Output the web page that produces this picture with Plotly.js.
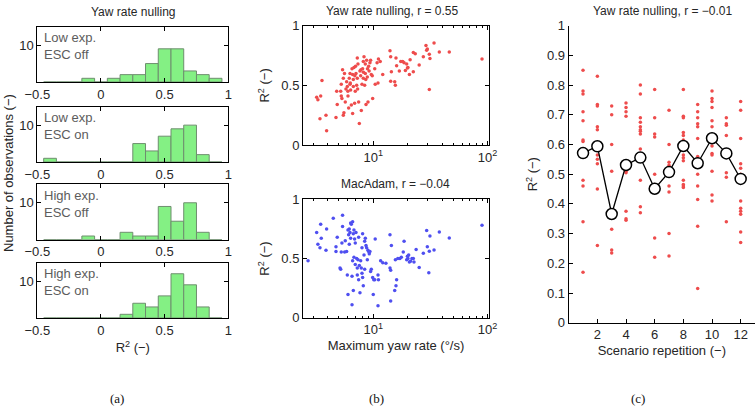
<!DOCTYPE html>
<html>
<head>
<meta charset="utf-8">
<script src="https://cdn.plot.ly/plotly-3.0.1.min.js"></script>
<style>
  html, body { margin: 0; padding: 0; background: #fff; }
  #chart { width: 755px; height: 414px; }
</style>
</head>
<body>
<div id="chart"></div>
<script>
// ---- (a) histograms of R² per condition (bin centres, width 0.1) ----
const binCenters = [-0.4, -0.3, -0.2, -0.1, 0, 0.1, 0.2, 0.3, 0.4, 0.5, 0.6, 0.7, 0.8, 0.9];
const countsLowOff  = [0, 0, 0, 1, 0, 1, 2, 2, 5, 9, 9, 3, 2, 1];
const countsLowOn   = [1, 0, 0, 0, 0, 0, 0, 5, 3, 7, 9, 10, 2, 0];
const countsHighOff = [0, 0, 0, 1, 0, 0, 2, 1, 1, 9, 5, 10, 2, 0];
const countsHighOn  = [0, 0, 0, 0, 0, 0, 1, 4, 3, 6, 12, 9, 3, 0];
const histLabels = ["Low exp.<br>ESC off", "Low exp.<br>ESC on", "High exp.<br>ESC off", "High exp.<br>ESC on"];
const histXTicks = [-0.5, 0, 0.5, 1];
const histXTickText = ["\u22120.5", "0", "0.5", "1"];

// ---- (b) R² versus maximum yaw rate ----
const yawMaxRate = [
  3.2, 3.28, 3.47, 3.56, 3.42, 3.86, 3.91, 4.72, 4.79, 4.84,
  5.19, 5.25, 5.25, 5.32, 5.39, 5.47, 5.54, 5.47, 5.69, 5.77,
  5.85, 5.93, 6.01, 6.09, 6.17, 6.26, 6.26, 6.34, 6.43, 6.52,
  6.6, 6.6, 6.69, 6.69, 6.78, 6.87, 6.96, 7.06, 7.16, 7.25,
  7.25, 7.35, 7.45, 7.55, 7.65, 7.76, 7.86, 7.97, 8.07, 8.18,
  8.18, 8.3, 8.41, 8.52, 8.52, 8.64, 8.75, 8.87, 8.99, 9.11,
  9.35, 9.48, 9.61, 9.88, 10.3, 10.4, 10.8, 11.1, 11.0, 11.5,
  12.1,
  14.0, 14.2, 14.4, 14.2, 15.4, 15.6, 15.8, 16.0, 16.9, 17.4,
  18.1, 18.6, 19.1, 19.6, 19.9, 20.1, 20.7, 21.0, 22.4, 23.3,
  22.4, 25.2, 27.4, 28.9, 29.3, 29.7, 30.9, 31.3, 30.9, 34.0,
  37.8, 46.2, 89.3,
  6.3, 6.9, 7.3, 7.8, 8.2, 8.6, 9.2, 6.0, 5.6, 7.0, 8.9, 9.8
];
const yawR2 = [
  0.40, 0.38, 0.41, 0.54, 0.22, 0.25, 0.12, 0.23, 0.45, 0.34,
  0.45, 0.41, 0.51, 0.39, 0.63, 0.56, 0.27, 0.25, 0.36, 0.47,
  0.53, 0.49, 0.41, 0.31, 0.56, 0.60, 0.51, 0.46, 0.335, 0.64,
  0.265, 0.59, 0.55, 0.49, 0.65, 0.35, 0.45, 0.60, 0.50, 0.73,
  0.56, 0.68, 0.36, 0.18, 0.62, 0.58, 0.29, 0.51, 0.64, 0.70,
  0.56, 0.74, 0.50, 0.68, 0.60, 0.34, 0.71, 0.57, 0.36, 0.66,
  0.69, 0.71, 0.59, 0.39, 0.64, 0.51, 0.69, 0.72, 0.52, 0.70,
  0.59,
  0.79, 0.74, 0.615, 0.535, 0.53, 0.50, 0.73, 0.665, 0.62, 0.70,
  0.70, 0.69, 0.625, 0.68, 0.645, 0.65, 0.59, 0.715, 0.775, 0.765,
  0.615, 0.67, 0.74, 0.835, 0.795, 0.805, 0.76, 0.725, 0.465, 0.855,
  0.78, 0.78, 0.72,
  0.52, 0.58, 0.47, 0.63, 0.61, 0.55, 0.62, 0.45, 0.60, 0.66, 0.64, 0.58
];
const macMaxRate = [
  2.69, 3.20, 3.28, 3.42, 3.47, 3.51, 3.86, 3.91, 4.47, 4.72,
  4.72, 4.84, 5.12, 5.19, 5.25, 5.32, 5.39, 5.39, 5.62, 5.69,
  5.85, 5.93, 6.01, 6.01, 6.09, 6.17, 6.17, 6.26, 6.34, 6.34,
  6.43, 6.52, 6.52, 6.60, 6.60, 6.69, 6.69, 6.78, 6.78, 6.87,
  6.96, 6.96, 7.06, 7.16, 7.25, 7.25, 7.35, 7.45, 7.45, 7.55,
  7.65, 7.76, 7.86, 7.97, 7.97, 8.07, 8.07, 8.18, 8.30, 8.41,
  8.41, 8.52, 8.64, 8.75, 8.87, 8.99, 9.11, 9.23, 9.35, 9.48,
  9.61, 9.88, 10.0, 10.1, 10.3, 10.4, 11.0, 11.0, 11.1, 11.6,
  12.1, 12.9,
  14.0, 14.0, 14.2, 14.4, 15.4, 15.8, 16.0, 14.2, 15.6, 16.4,
  17.1, 17.6, 18.3, 18.6, 19.6, 19.9, 20.1, 20.4, 20.7, 21.2,
  21.8, 22.4, 22.7, 23.7, 25.2, 27.4, 29.3, 29.7, 30.9, 31.3,
  30.6, 34.0, 37.8, 46.2, 89.3
];
const macR2 = [
  0.48, 0.72, 0.62, 0.59, 0.79, 0.67, 0.57, 0.75, 0.84, 0.60,
  0.56, 0.68, 0.42, 0.41, 0.555, 0.63, 0.865, 0.77, 0.555, 0.65,
  0.56, 0.36, 0.195, 0.74, 0.70, 0.75, 0.62, 0.72, 0.80, 0.67,
  0.79, 0.35, 0.11, 0.81, 0.48, 0.71, 0.23, 0.74, 0.51, 0.665,
  0.63, 0.45, 0.72, 0.50, 0.42, 0.36, 0.49, 0.68, 0.32, 0.44,
  0.21, 0.48, 0.42, 0.59, 0.375, 0.71, 0.34, 0.27, 0.53, 0.645,
  0.41, 0.67, 0.61, 0.59, 0.49, 0.57, 0.56, 0.54, 0.56, 0.39,
  0.41, 0.34, 0.195, 0.32, 0.32, 0.665, 0.10, 0.36, 0.32, 0.48,
  0.465, 0.46,
  0.70, 0.42, 0.40, 0.61, 0.23, 0.27, 0.32, 0.14, 0.49, 0.50,
  0.50, 0.51, 0.555, 0.645, 0.49, 0.52, 0.50, 0.53, 0.47, 0.476,
  0.50, 0.50, 0.47, 0.577, 0.425, 0.544, 0.736, 0.60, 0.561, 0.69,
  0.38, 0.572, 0.724, 0.673, 0.78
];

// ---- (c) R² per scenario repetition ----
const repetitions = [1, 2, 3, 4, 5, 6, 7, 8, 9, 10, 11, 12];
const repR2 = [
  [0.85, 0.78, 0.77, 0.71, 0.68, 0.615, 0.61, 0.58, 0.56, 0.48, 0.46, 0.34, 0.17],
  [0.83, 0.735, 0.73, 0.66, 0.65, 0.60, 0.59, 0.565, 0.55, 0.535, 0.45, 0.26],
  [0.73, 0.70, 0.60, 0.51, 0.37, 0.315, 0.245, 0.235],
  [0.74, 0.725, 0.71, 0.695, 0.53, 0.51, 0.505, 0.375, 0.35, 0.345],
  [0.80, 0.77, 0.69, 0.675, 0.66, 0.65, 0.645, 0.635, 0.585, 0.56, 0.48, 0.39, 0.37],
  [0.785, 0.69, 0.635, 0.625, 0.50, 0.465, 0.45, 0.285, 0.22],
  [0.715, 0.60, 0.54, 0.53, 0.505, 0.46, 0.44, 0.30, 0.225],
  [0.785, 0.695, 0.69, 0.64, 0.63, 0.615, 0.595, 0.565, 0.555, 0.545, 0.48, 0.465, 0.46, 0.455],
  [0.735, 0.71, 0.69, 0.67, 0.66, 0.62, 0.56, 0.535, 0.50, 0.46, 0.415, 0.325, 0.115],
  [0.78, 0.755, 0.745, 0.725, 0.68, 0.66, 0.62, 0.595, 0.57, 0.565, 0.51, 0.43, 0.41],
  [0.69, 0.67, 0.665, 0.63, 0.57, 0.505, 0.49, 0.34],
  [0.745, 0.715, 0.62, 0.535, 0.52, 0.50, 0.41, 0.385, 0.375, 0.365, 0.305, 0.27]
];
const repMeanR2 = [0.571, 0.594, 0.366, 0.531, 0.556, 0.451, 0.507, 0.595, 0.537, 0.621, 0.570, 0.484];

// ---- page geometry helpers (pixel -> paper fraction) ----
const W = 755, H = 414;
const px = v => v / W;
const py = v => 1 - v / H;

const FONT = "Liberation Sans, Arial, sans-serif";
const INK = "#262626";
const RED = "#ee4c4c";
const BLUE = "#4f4ff0";

const axisBase = {
  showline: true, linecolor: "#000", linewidth: 1,
  ticks: "inside", ticklen: 4, tickcolor: "#000",
  showgrid: false, zeroline: false,
  tickfont: { family: FONT, size: 13, color: INK }
};

// histogram panel rows (top, bottom in px)
const histRows = [[26.7, 82], [106.7, 162], [184.3, 239.7], [262.7, 318]];
const histCounts = [countsLowOff, countsLowOn, countsHighOff, countsHighOn];

const traces = [];
const layout = {
  width: W, height: H,
  margin: { l: 0, r: 0, t: 0, b: 0 },
  paper_bgcolor: "#fff", plot_bgcolor: "#fff",
  showlegend: false,
  font: { family: FONT, size: 13, color: INK },
  annotations: []
};

histRows.forEach((row, i) => {
  const n = i + 1;
  const xa = "xaxis" + n, ya = "yaxis" + n;
  traces.push({
    type: "bar", x: binCenters, y: histCounts[i], width: 0.1,
    xaxis: "x" + n, yaxis: "y" + n,
    marker: { color: "#84f084", line: { color: "#6e8e6e", width: 1 } },
    hoverinfo: "skip"
  });
  layout[xa] = Object.assign({}, axisBase, {
    domain: [px(37.3), px(228.3)], range: [-0.5, 1], anchor: "y" + n,
    tickmode: "array", tickvals: histXTicks, ticktext: histXTickText,
    mirror: "ticks"
  });
  layout[ya] = Object.assign({}, axisBase, {
    domain: [py(row[1]), py(row[0])], range: [0, 15], anchor: "x" + n,
    tickmode: "array", tickvals: [10], ticktext: ["10"],
    mirror: "ticks"
  });
  layout.annotations.push({
    xref: "paper", yref: "paper", x: px(42), y: py(row[0] + 19.5),
    xanchor: "left", yanchor: "middle", align: "left", showarrow: false,
    text: histLabels[i], font: { family: FONT, size: 13, color: "#5c5c5c" }
  });
});
layout.xaxis4.title = { text: "R<sup>2</sup> (\u2212)", standoff: 6, font: { family: FONT, size: 13, color: INK } };

// (b) scatter panels
const logRange = [Math.log10(2.43), Math.log10(102.8)];
const logAxis = Object.assign({}, axisBase, {
  type: "log", range: logRange, domain: [px(303), px(489)],
  tickmode: "array", tickvals: [10, 100], ticktext: ["10<sup>1</sup>", "10<sup>2</sup>"],
  mirror: "ticks",
  minor: { tickmode: "array", tickvals: [3, 4, 5, 6, 7, 8, 9, 20, 30, 40, 50, 60, 70, 80, 90],
           ticks: "inside", ticklen: 2, tickcolor: "#000" }
});
const r2Axis = Object.assign({}, axisBase, {
  range: [0, 1], tickmode: "array", tickvals: [0, 0.5, 1], ticktext: ["0", "0.5", "1"],
  mirror: "ticks",
  title: { text: "R<sup>2</sup> (\u2212)", standoff: 8, font: { family: FONT, size: 13, color: INK } }
});

traces.push({
  type: "scatter", mode: "markers", x: yawMaxRate, y: yawR2, xaxis: "x5", yaxis: "y5",
  marker: { color: RED, size: 3.5 }, hoverinfo: "skip"
});
traces.push({
  type: "scatter", mode: "markers", x: macMaxRate, y: macR2, xaxis: "x6", yaxis: "y6",
  marker: { color: BLUE, size: 3.5 }, hoverinfo: "skip"
});
layout.xaxis5 = Object.assign({}, logAxis, { anchor: "y5" });
layout.yaxis5 = Object.assign({}, r2Axis, { domain: [py(145), py(25.7)], anchor: "x5" });
layout.xaxis6 = Object.assign({}, logAxis, {
  anchor: "y6",
  title: { text: "Maximum yaw rate (\u00b0/s)", standoff: 4, font: { family: FONT, size: 13, color: INK } }
});
layout.yaxis6 = Object.assign({}, r2Axis, { domain: [py(317.7), py(199.3)], anchor: "x6" });

// (c) repetition panel: individual values plus the per-repetition mean line
const repX = [], repY = [];
repR2.forEach((vals, i) => vals.forEach(v => { repX.push(repetitions[i]); repY.push(v); }));
traces.push({
  type: "scatter", mode: "markers", x: repX, y: repY, xaxis: "x7", yaxis: "y7",
  marker: { color: RED, size: 3.5 }, hoverinfo: "skip"
});
traces.push({
  type: "scatter", mode: "lines+markers", x: repetitions, y: repMeanR2, xaxis: "x7", yaxis: "y7",
  line: { color: "#000", width: 1.3 },
  marker: { symbol: "circle", size: 11, color: "#fff", line: { color: "#000", width: 1.5 } },
  hoverinfo: "skip"
});
layout.xaxis7 = Object.assign({}, axisBase, {
  domain: [px(568.7), 1], range: [0, 13], anchor: "y7",
  tickmode: "array", tickvals: [2, 4, 6, 8, 10, 12],
  title: { text: "Scenario repetition (\u2212)", standoff: 4, font: { family: FONT, size: 13, color: INK } }
});
layout.yaxis7 = Object.assign({}, axisBase, {
  domain: [py(322.7), py(25.7)], range: [0, 1], anchor: "x7",
  tickmode: "array", tickvals: [0, 0.1, 0.2, 0.3, 0.4, 0.5, 0.6, 0.7, 0.8, 0.9, 1],
  ticktext: ["0", "0.1", "0.2", "0.3", "0.4", "0.5", "0.6", "0.7", "0.8", "0.9", "1"],
  title: { text: "R<sup>2</sup> (\u2212)", standoff: 6, font: { family: FONT, size: 13, color: INK } }
});

// panel titles, shared label and sub-figure tags
const texts = [
  { x: 133, y: 12, text: "Yaw rate nulling", size: 12 },
  { x: 392, y: 11, text: "Yaw rate nulling, r = 0.55", size: 12 },
  { x: 395, y: 184, text: "MacAdam, r = \u22120.04", size: 12 },
  { x: 663, y: 11, text: "Yaw rate nulling, r = \u22120.01", size: 12 }
];
texts.forEach(t => layout.annotations.push({
  xref: "paper", yref: "paper", x: px(t.x), y: py(t.y), xanchor: "center", yanchor: "middle",
  showarrow: false, text: t.text, font: { family: FONT, size: t.size, color: INK }
}));
layout.annotations.push({
  xref: "paper", yref: "paper", x: px(8), y: py(173), xanchor: "center", yanchor: "middle",
  textangle: -90, showarrow: false, text: "Number of observations (\u2212)",
  font: { family: FONT, size: 13, color: INK }
});
[["(a)", 117], ["(b)", 376], ["(c)", 638]].forEach(([t, x]) => layout.annotations.push({
  xref: "paper", yref: "paper", x: px(x), y: py(398), xanchor: "center", yanchor: "middle",
  showarrow: false, text: t, font: { family: "Liberation Serif, DejaVu Serif, serif", size: 13, color: "#111" }
}));

Plotly.newPlot("chart", traces, layout, { staticPlot: true, displayModeBar: false });
</script>
</body>
</html>
